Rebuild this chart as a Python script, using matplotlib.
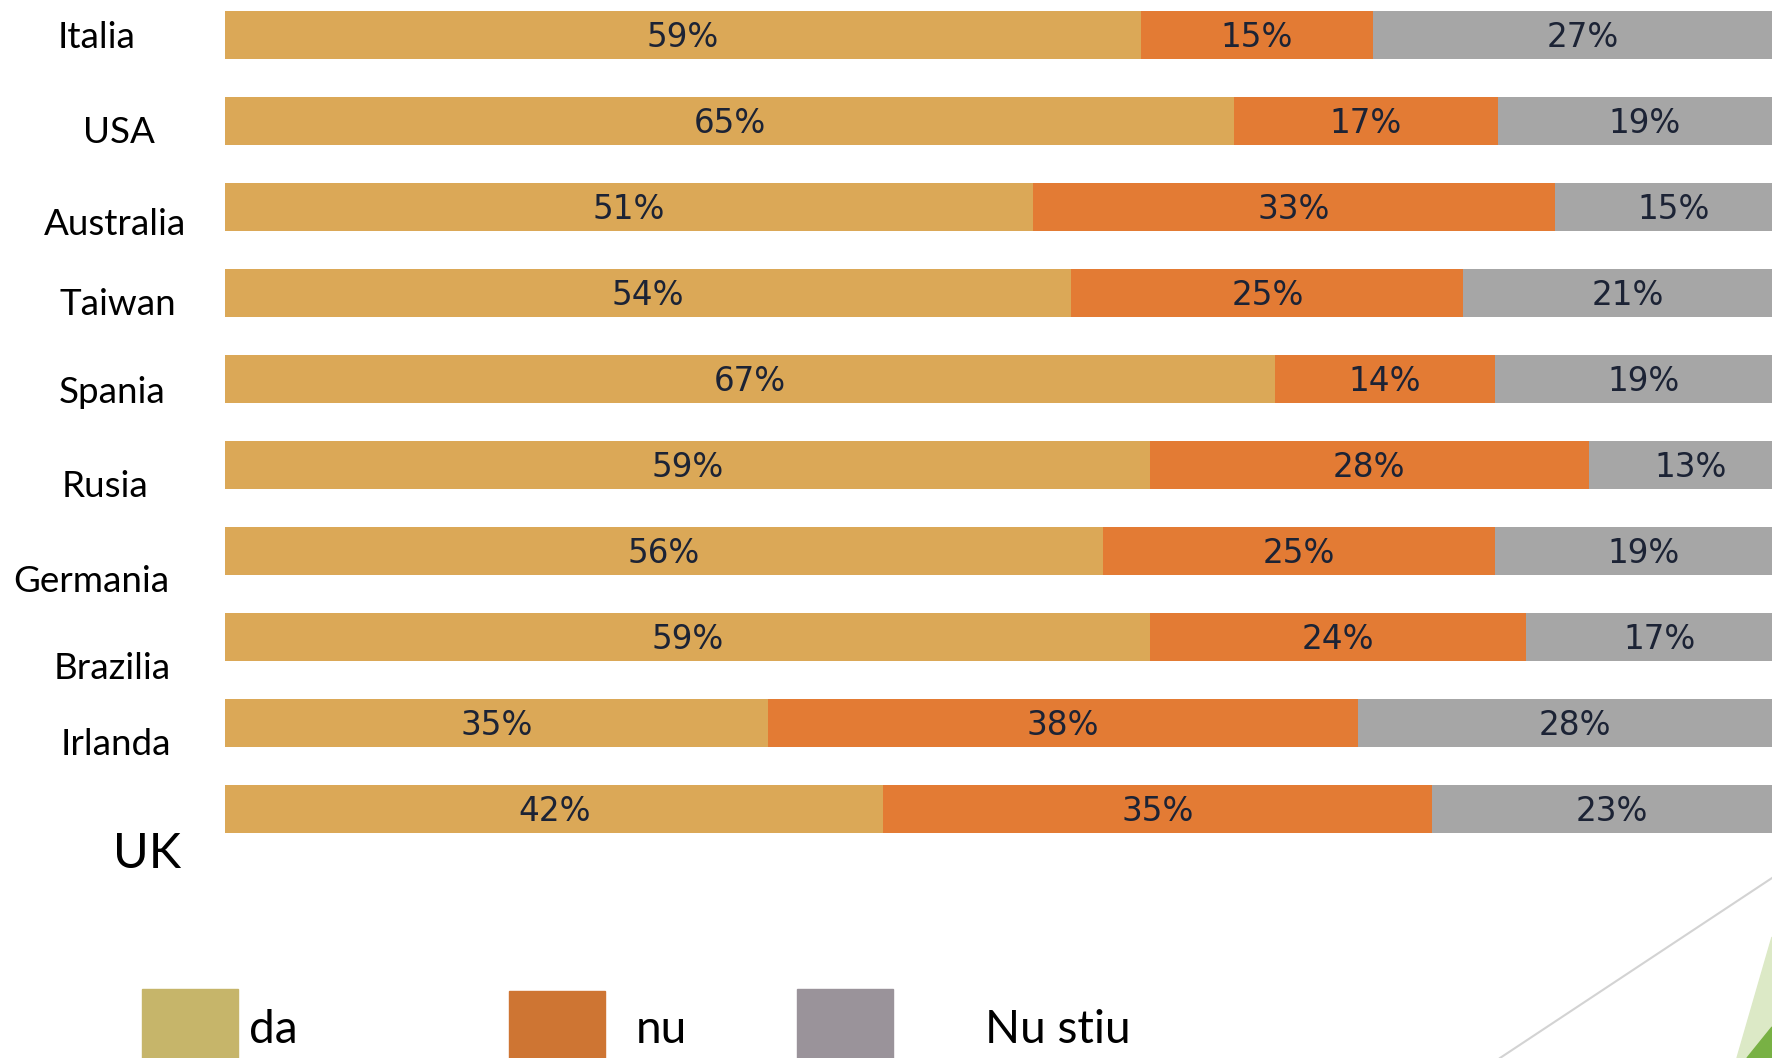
import numpy as np
import matplotlib.pyplot as plt
from matplotlib.patches import Rectangle, Polygon
from matplotlib.lines import Line2D

# --- date ---
tari = ['Italia', 'USA', 'Australia', 'Taiwan', 'Spania',
        'Rusia', 'Germania', 'Brazilia', 'Irlanda', 'UK']
da = [59, 65, 51, 54, 67, 59, 56, 59, 35, 42]
nu = [15, 17, 33, 25, 14, 28, 25, 24, 38, 35]
nu_stiu = [27, 19, 15, 21, 19, 13, 19, 17, 28, 23]
serii = ['da', 'nu', 'Nu stiu']

# --- stil ---
culori_bare = ['#DBA857', '#E37B34', '#A6A6A6']
culori_legenda = ['#C6B56A', '#CE7533', '#9A939A']
W, H = 1772, 1058


def fx(x):
    return x / W


def fy(y):
    return 1 - y / H


fig = plt.figure(figsize=(W / 100, H / 100), dpi=100)
fig.patch.set_facecolor('white')

# axa cu barele (100% stacked), iese putin din dreapta imaginii
ax = fig.add_axes([fx(225), fy(852), 1567.5 / W, 860 / H])
ax.set_xlim(0, 100)
ax.set_ylim(len(tari) - 0.5, -0.5)
ax.axis('off')

valori = np.array([da, nu, nu_stiu], dtype=float)
procente = valori / valori.sum(axis=0) * 100
y = np.arange(len(tari))
stanga = np.zeros(len(tari))
for k in range(3):
    ax.barh(y, procente[k], left=stanga, height=0.55,
            color=culori_bare[k], edgecolor='none')
    for i in range(len(tari)):
        ax.text(stanga[i] + procente[k][i] / 2, y[i] + 0.145,
                f'{int(valori[k][i])}%', ha='center', va='baseline',
                fontsize=23.5, color='#1C2335', family='DejaVu Sans')
    stanga += procente[k]

# etichete tari (casete text separate in original)
pozitii_etichete = [(97, 48), (119, 143), (115, 235), (118, 315), (112, 403),
                    (105, 497), (91, 592), (112, 679), (116, 755), (147, 868)]
for nume, (px, py) in zip(tari, pozitii_etichete):
    fs = 35 if nume == 'UK' else 26.5
    fig.text(fx(px), fy(py), nume, ha='center', va='baseline',
             fontsize=fs, family='Lato', color='black')

# legenda
casete = [(142, 989), (509, 991), (797, 989)]
texte_x = [249, 636, 985]
for k in range(3):
    cx, cy = casete[k]
    fig.patches.append(Rectangle((fx(cx), 0), 96 / W, fy(cy),
                                 transform=fig.transFigure,
                                 color=culori_legenda[k], zorder=2))
    fig.text(fx(texte_x[k]), fy(1043), serii[k], ha='left', va='baseline',
             fontsize=33, family='Lato', color='black')

# decor colt dreapta jos
fig.lines.append(Line2D([fx(1500), fx(1772)], [fy(1058), fy(878)],
                        transform=fig.transFigure, color='#D3D3D3', lw=1.5))
fig.patches.append(Polygon([(fx(1737), fy(1058)), (fx(1772), fy(937)),
                            (fx(1772), fy(1058))], closed=True,
                           transform=fig.transFigure, color='#DCE9C6'))
fig.patches.append(Polygon([(fx(1747), fy(1058)), (fx(1772), fy(1027)),
                            (fx(1772), fy(1058))], closed=True,
                           transform=fig.transFigure, color='#78B144'))

fig.savefig('out.png', dpi=100)
